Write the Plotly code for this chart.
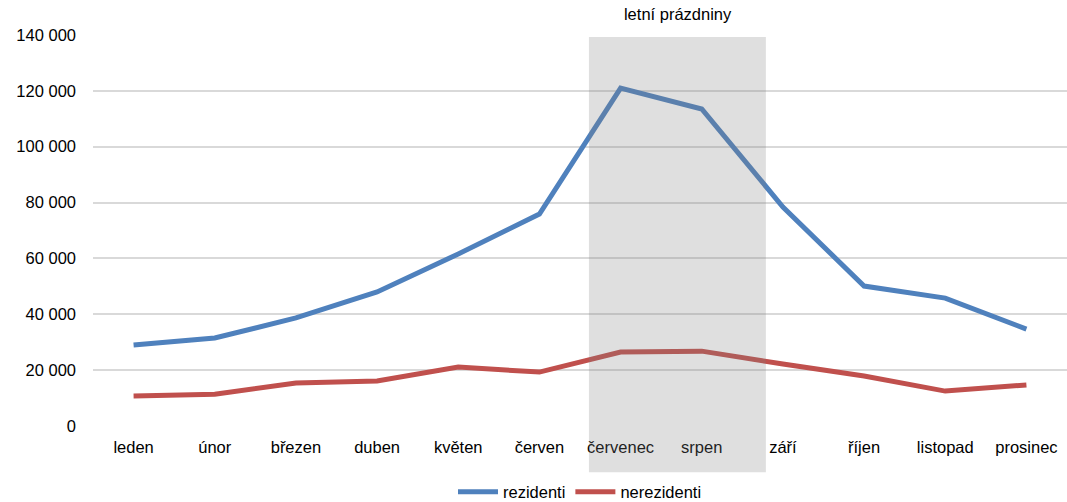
import plotly.graph_objects as go

months = ['leden', 'únor', 'březen', 'duben', 'květen', 'červen',
          'červenec', 'srpen', 'září', 'říjen', 'listopad', 'prosinec']
rezidenti = [29000, 31500, 38700, 48000, 61600, 75900,
             121000, 113500, 78400, 50100, 45800, 34700]
nerezidenti = [10700, 11400, 15400, 16100, 21100, 19300,
               26500, 26800, 22200, 17900, 12500, 14700]
y_ticks = [0, 20000, 40000, 60000, 80000, 100000, 120000, 140000]

holiday_label = 'letní prázdniny'
holiday_span = (5.61, 7.79)  # category-axis positions of the shaded block

font = 'Liberation Sans, Arial, sans-serif'

fig = go.Figure()
fig.add_trace(go.Scatter(x=months, y=rezidenti, name='rezidenti', mode='lines',
                         line=dict(color='#4f81bd', width=5)))
fig.add_trace(go.Scatter(x=months, y=nerezidenti, name='nerezidenti', mode='lines',
                         line=dict(color='#c0504d', width=5)))

# shaded summer-holiday block, drawn over the lines
fig.add_shape(type='rect', xref='x', yref='paper',
              x0=holiday_span[0], x1=holiday_span[1], y0=-0.118, y1=0.995,
              fillcolor='rgba(128,128,128,0.25)', line=dict(width=0), layer='above')
fig.add_annotation(text=holiday_label, xref='x', yref='paper',
                   x=6.63, y=0.995, xshift=6,
                   xanchor='center', yanchor='bottom', showarrow=False,
                   bgcolor='white', width=176, height=30, valign='top',
                   font=dict(size=16.5, color='#000'))

fig.update_layout(
    width=1067, height=502,
    margin=dict(l=93, r=0, t=35, b=76, autoexpand=False),
    plot_bgcolor='white', paper_bgcolor='white',
    font=dict(family=font, size=16.5, color='#000'),
    separators=', ',
    showlegend=True,
    legend=dict(orientation='h', x=0.5, xanchor='center', y=-0.169, yanchor='middle',
                font=dict(size=16.5), itemwidth=40, traceorder='normal'),
    xaxis=dict(showgrid=False, showline=False, zeroline=False, automargin=False,
               range=[-0.5, 11.5], ticklabelstandoff=9),
    yaxis=dict(range=[0, 140000], tickvals=y_ticks, tickformat=',d', automargin=False,
               showgrid=True, gridcolor='#d9d9d9', gridwidth=1.5,
               zeroline=False, showline=False, ticklabelstandoff=16),
)

# drop the default page margin so the figure sits at the window's corner
fig.write_html('out.html', config={'displayModeBar': False},
               post_script="document.body.style.margin='0';")
